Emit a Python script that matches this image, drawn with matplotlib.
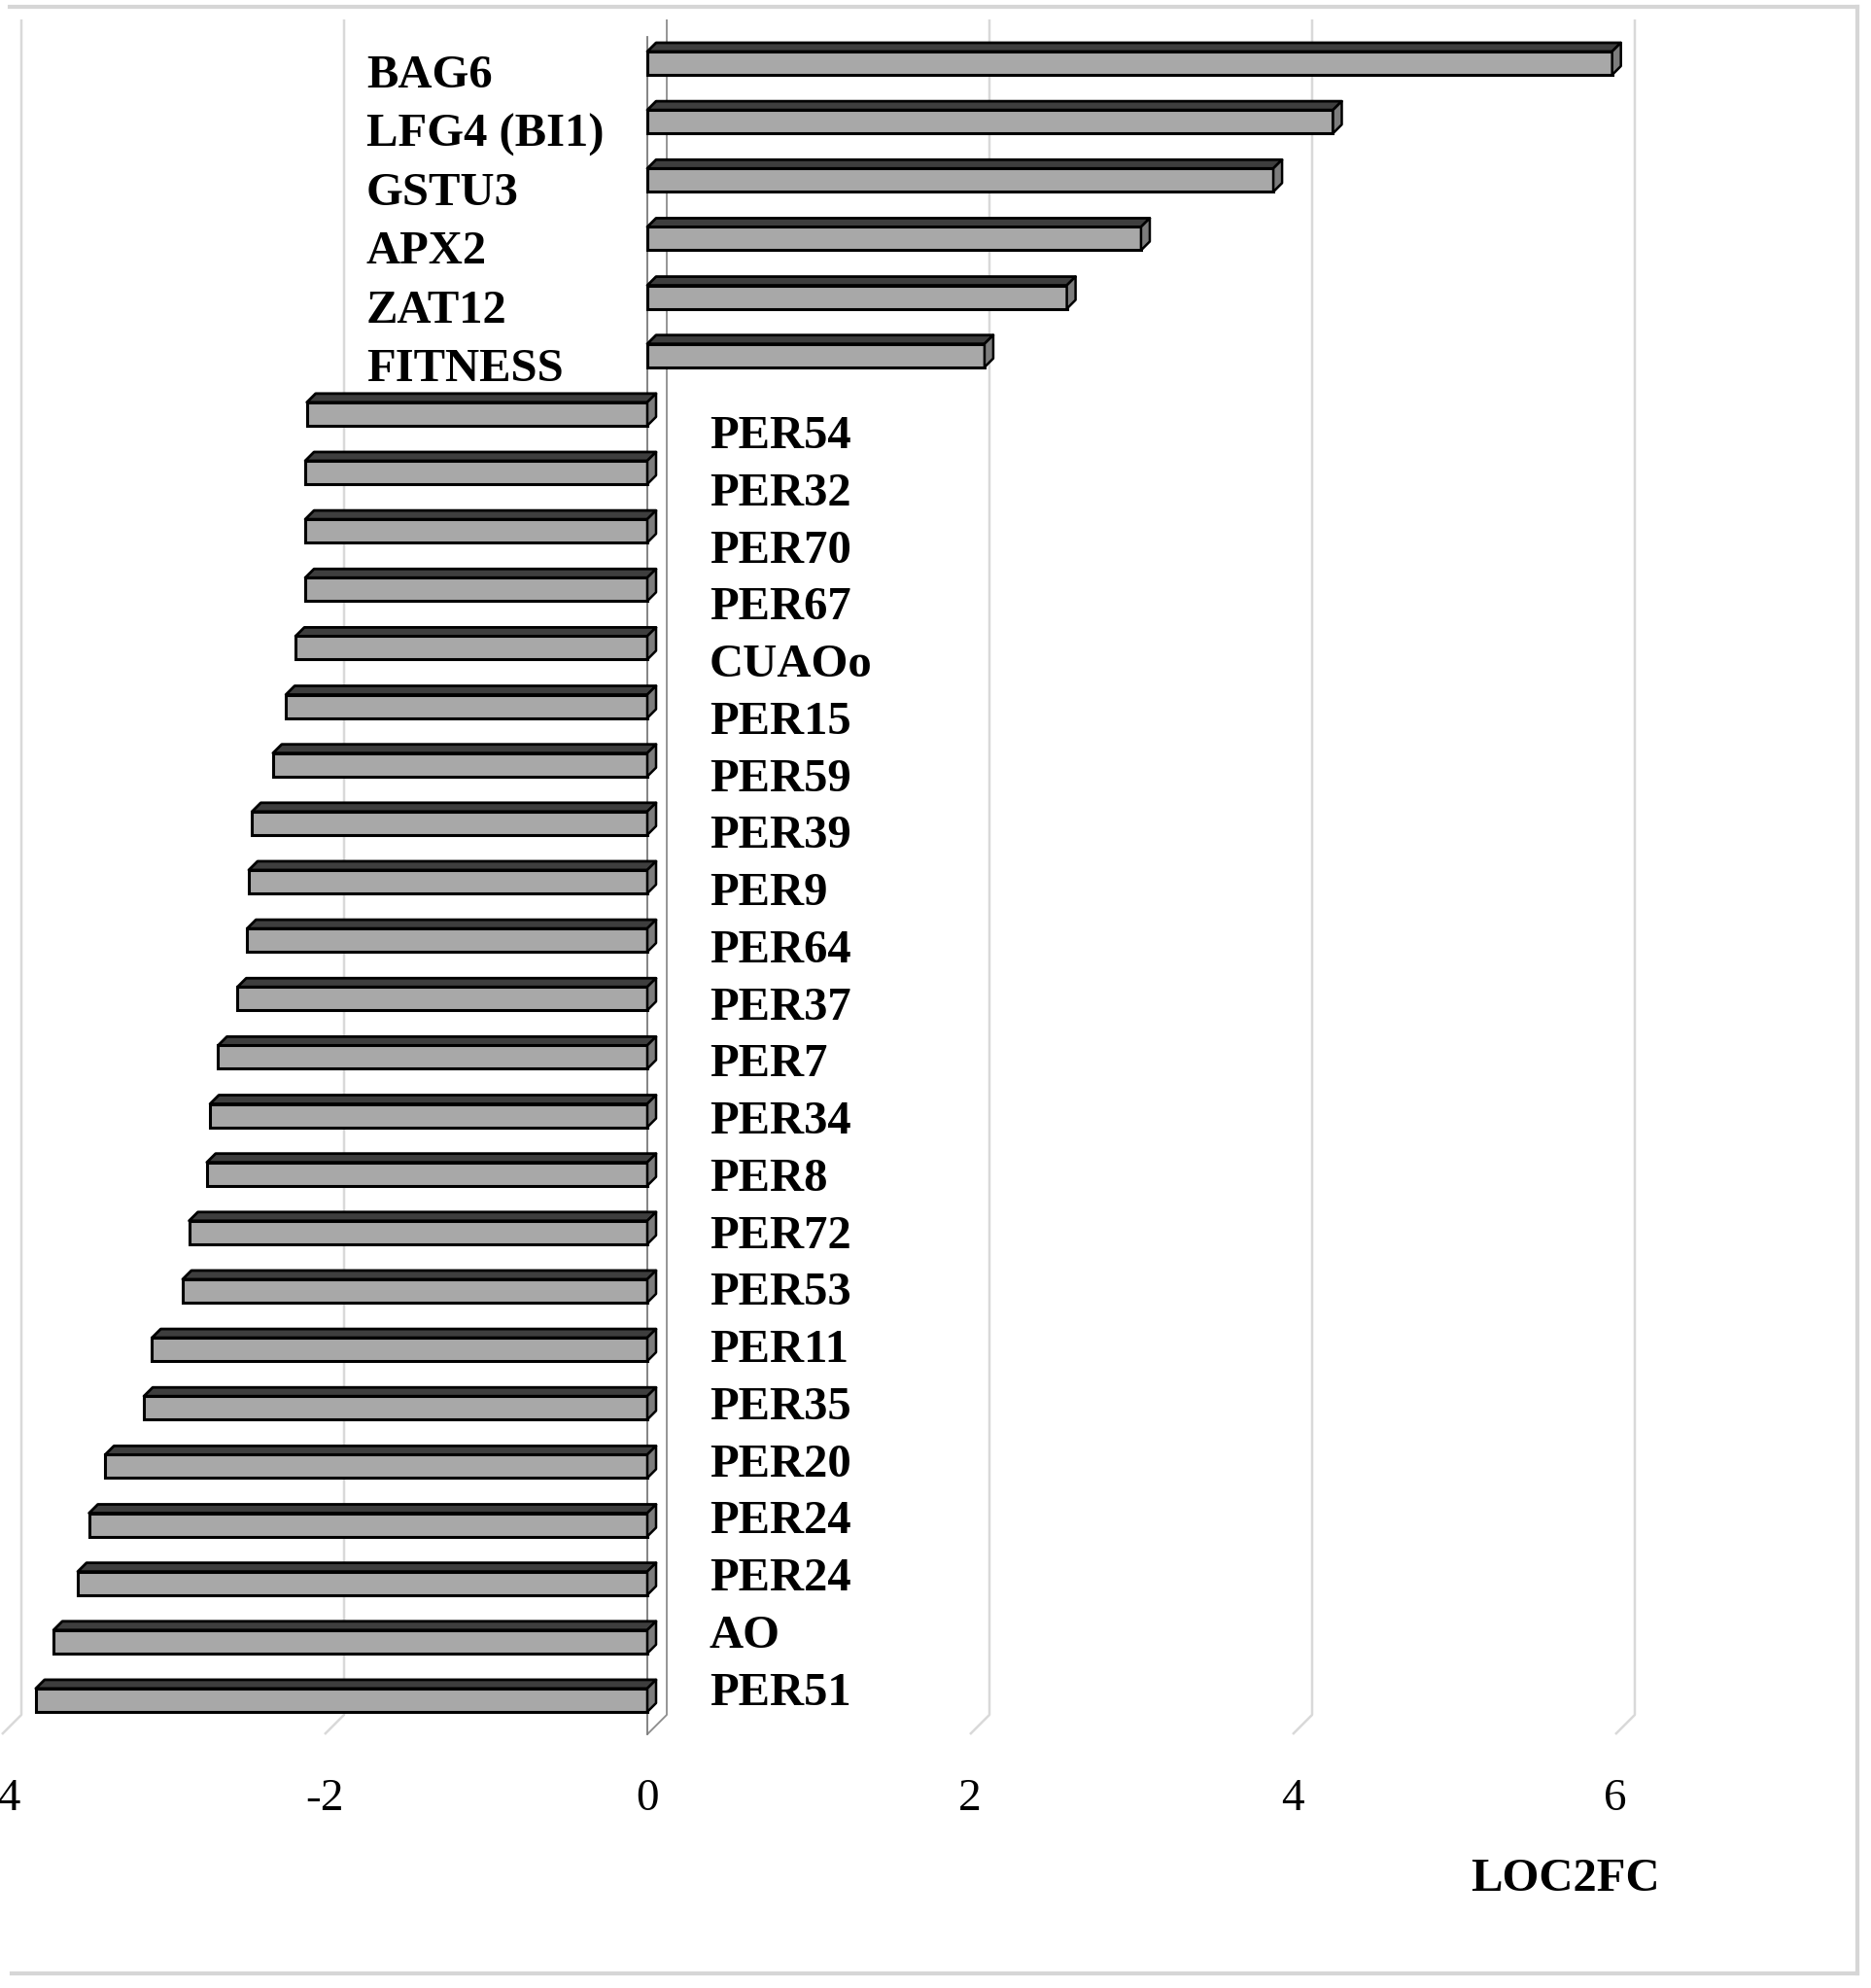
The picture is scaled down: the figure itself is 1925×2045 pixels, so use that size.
# 3D-look horizontal bar chart of LOC2FC values per gene

import matplotlib.pyplot as plt
from matplotlib.patches import Polygon
from matplotlib.lines import Line2D

# data
genes_up = ["BAG6", "LFG4 (BI1)", "GSTU3", "APX2", "ZAT12", "FITNESS"]
values_up = [5.98, 4.25, 3.88, 3.06, 2.60, 2.09]

genes_down = ["PER54", "PER32", "PER70", "PER67", "CUAOo", "PER15", "PER59",
              "PER39", "PER9", "PER64", "PER37", "PER7", "PER34", "PER8",
              "PER72", "PER53", "PER11", "PER35", "PER20", "PER24", "PER24",
              "AO", "PER51"]
values_down = [-2.11, -2.12, -2.12, -2.12, -2.18, -2.24, -2.32,
               -2.45, -2.47, -2.48, -2.54, -2.66, -2.71, -2.73,
               -2.84, -2.88, -3.07, -3.12, -3.36, -3.46, -3.53,
               -3.68, -3.79]

x_ticks = [-4, -2, 0, 2, 4, 6]
x_label = "LOC2FC"

values = values_up + values_down
n = len(values)
pos = list(range(n))

W, H, DPI = 1925, 2045, 100
px_x = 166.0     # pixels per unit on x
px_y = 60.14     # pixels per category
x0_px = 666.0    # pixel column of x = 0
y0_px = 65.0     # pixel row of first bar centre

serif = ["Liberation Serif", "DejaVu Serif"]

fig = plt.figure(figsize=(W / DPI, H / DPI), dpi=DPI)
ax = fig.add_axes([0, 0, 1, 1])
ax.set_xlim(-x0_px / px_x, (W - x0_px) / px_x)
ax.set_ylim((H - y0_px) / px_y, -y0_px / px_y)
ax.axis("off")

# back wall gridlines with a short slant on the floor
depth = 20 / px_x
top_y = (20 - y0_px) / px_y
floor_back = (1764 - y0_px) / px_y
floor_front = (1784 - y0_px) / px_y
for t in x_ticks:
    col = "#8c8c8c" if t == 0 else "#d9d9d9"
    lw = 1.3 if t == 0 else 1.8
    ax.plot([t + depth, t + depth, t], [top_y, floor_back, floor_front],
            color=col, lw=lw, zorder=1, solid_capstyle="butt")
# front vertical axis line
ax.plot([0, 0], [(38 - y0_px) / px_y, floor_front], color="#7a7a7a", lw=1.3, zorder=1)

# bars: front face, top face and right side face
h = 24 / px_y
dx = 9 / px_x
dy = 9 / px_y
ax.barh(pos, values, height=h, color="#a8a8a8", edgecolor="black", lw=2.2, zorder=3)
for y, v in zip(pos, values):
    a, b = min(0, v), max(0, v)
    top = y - h / 2
    ax.add_patch(Polygon([(a, top), (b, top), (b + dx, top - dy), (a + dx, top - dy)],
                         closed=True, facecolor="#3e3e3e", edgecolor="black", lw=2.0,
                         joinstyle="round", zorder=4))
    ax.add_patch(Polygon([(b, top), (b + dx, top - dy), (b + dx, top + h - dy), (b, top + h)],
                         closed=True, facecolor="#7d7d7d", edgecolor="black", lw=1.8,
                         joinstyle="round", zorder=4))

# category labels
cap_half = 16 / px_y
for i, g in enumerate(genes_up):
    ax.text((377 - x0_px) / px_x, (74 - y0_px) / px_y + cap_half + i * 1.0043, g,
            ha="left", va="baseline", fontsize=35, fontweight="bold", family=serif, zorder=5)
for j, g in enumerate(genes_down):
    ax.text((730 - x0_px) / px_x, (445 - y0_px) / px_y + cap_half + j * 0.977, g,
            ha="left", va="baseline", fontsize=35, fontweight="bold", family=serif, zorder=5)

# x tick labels and axis title
for t in x_ticks:
    ax.text(t, (1862 - y0_px) / px_y, str(t), ha="center", va="baseline",
            fontsize=34, family=serif)
ax.text((1610 - x0_px) / px_x, (1945 - y0_px) / px_y, x_label, ha="center",
        va="baseline", fontsize=35, fontweight="bold", family=serif)

# light chart border
bc = "#d6d6d6"
for xs, ys in [([10, 1911], [7, 7]), ([1911, 1911], [7, 2030]), ([12, 1911], [2030, 2030])]:
    fig.add_artist(Line2D([x / W for x in xs], [1 - y / H for y in ys], color=bc, lw=3))

plt.savefig("out.png", dpi=DPI)
plt.close()
